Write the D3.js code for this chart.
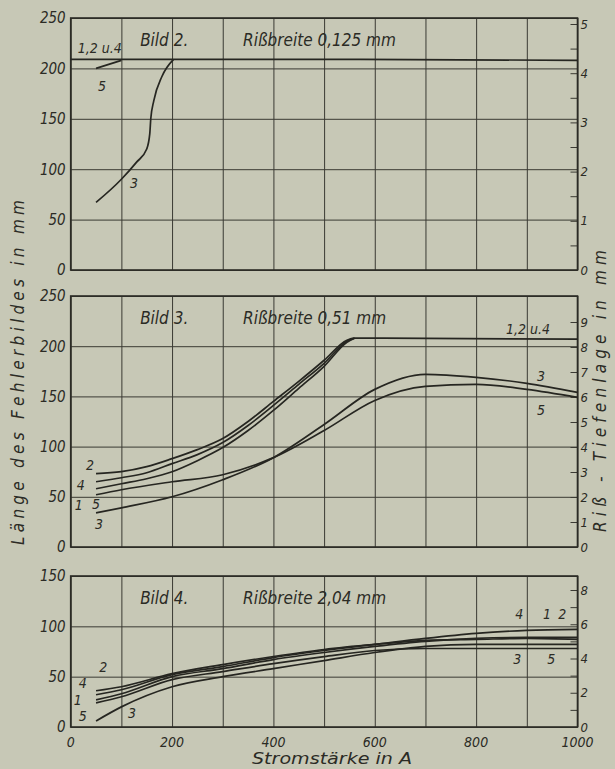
<!DOCTYPE html>
<html>
<head>
<meta charset="utf-8">
<script src="https://cdn.jsdelivr.net/npm/d3@7"></script>
<style>
body { margin: 0; background: #c7c8b6; }
text { font-family: "DejaVu Sans Condensed", "Liberation Sans Narrow", sans-serif; font-style: italic; fill: #2b2b25; }
.domain { display: none; }
.grid line { stroke: #3a3a33; stroke-width: 1; }
.curve { fill: none; stroke: #262621; stroke-width: 1.7; }
</style>
</head>
<body>
<svg id="chart" width="615" height="769"></svg>
<script>
// Stromstaerke (A) ticks and axis values
var stromGrid = [0, 100, 200, 300, 400, 500, 600, 700, 800, 900, 1000]
var stromLabels = [0, 200, 400, 600, 800, 1000]
var laengeTicks2 = [0, 50, 100, 150, 200, 250]
var laengeTicks3 = [0, 50, 100, 150, 200, 250]
var laengeTicks4 = [0, 50, 100, 150]
var tiefeTicks2 = [0, 0.5, 1, 1.5, 2, 2.5, 3, 3.5, 4, 4.5, 5]
var tiefeTicks3 = [0, 1, 2, 3, 4, 5, 6, 7, 8, 9]
var tiefeTicks4 = [0, 1, 2, 3, 4, 5, 6, 7, 8]

// Bild 2 - Rissbreite 0,125 mm  [A, Laenge mm]
var b2_kurve124 = [[0, 209], [500, 209], [1000, 208]]
var b2_kurve5 = [[50, 200], [75, 204], [100, 208]]
var b2_kurve3 = [[50, 67], [100, 90], [130, 107], [150, 120], [156, 135], [158, 150], [164, 168], [180, 192], [203, 209]]
var b2_labels = [["1,2 u.4", 14, 215, "start"], ["5", 62, 178, "middle"], ["3", 125, 81, "middle"]]

// Bild 3 - Rissbreite 0,51 mm
var b3_kurve2 = [[50, 73], [100, 75], [150, 80], [200, 88], [250, 97], [300, 108], [350, 125], [400, 145], [450, 165], [500, 186], [545, 206], [560, 208], [1000, 207]]
var b3_kurve4 = [[50, 65], [100, 69], [150, 74], [200, 83], [250, 92], [300, 104], [350, 121], [400, 141], [450, 162], [500, 183], [545, 205], [560, 208]]
var b3_kurve1 = [[50, 58], [100, 63], [150, 68], [200, 75], [250, 86], [300, 99], [350, 116], [400, 136], [450, 158], [500, 180], [545, 204], [560, 208]]
var b3_kurve5 = [[50, 52], [100, 57], [200, 65], [300, 72], [400, 89], [500, 116], [600, 146], [700, 160], [800, 162], [900, 157], [1000, 149]]
var b3_kurve3 = [[50, 34], [100, 39], [200, 50], [300, 67], [400, 89], [500, 122], [600, 157], [700, 172], [800, 169], [900, 163], [1000, 154]]
var b3_labels = [["2", 38, 77, "middle"], ["4", 20, 57, "middle"], ["1", 16, 37, "middle"], ["5", 50, 38, "middle"], ["3", 56, 18, "middle"],
    ["1,2 u.4", 859, 212, "start"], ["3", 928, 165, "middle"], ["5", 928, 131, "middle"]]

// Bild 4 - Rissbreite 2,04 mm
var b4_kurve2 = [[50, 36], [100, 40], [200, 53], [300, 62], [400, 70], [500, 77], [600, 82], [700, 86], [800, 87], [900, 88], [1000, 87]]
var b4_kurve4 = [[50, 32], [100, 37], [200, 52], [300, 60], [400, 69], [500, 76], [600, 82], [700, 88], [800, 93], [900, 96], [1000, 97]]
var b4_kurve1 = [[50, 27], [100, 33], [200, 50], [300, 58], [400, 67], [500, 74], [600, 80], [700, 85], [800, 88], [900, 89], [1000, 89]]
var b4_kurve5 = [[50, 24], [100, 30], [200, 47], [300, 55], [400, 63], [500, 70], [600, 76], [700, 78], [800, 78], [900, 78], [1000, 78]]
var b4_kurve3 = [[50, 6], [100, 20], [200, 40], [300, 50], [400, 58], [500, 66], [600, 74], [700, 80], [800, 82], [900, 82], [1000, 82]]
var b4_labels = [["2", 64, 55, "middle"], ["4", 24, 39, "middle"], ["1", 14, 22, "middle"], ["5", 24, 6, "middle"], ["3", 121, 9, "middle"],
    ["4", 885, 107, "middle"], ["1", 940, 107, "middle"], ["2", 970, 107, "middle"], ["3", 881, 63, "middle"], ["5", 948, 63, "middle"]]

var svg = d3.select("#chart")
svg.append("rect").attr("width", 615).attr("height", 769).attr("fill", "#c7c8b6")

var xScale = d3.scaleLinear().domain([0, 1000]).range([70.7, 577.5])
var plotW = 577.5 - 70.7

/*
One panel: grid, border, left/right scale, curves, labels.
*/
function drawPanel(p) {
    var yScale = d3.scaleLinear().domain([0, p.maxL]).range([p.bottom, p.top])
    var yRight = d3.scaleLinear().domain([0, p.maxR]).range([p.bottom, p.rTop])
    var g = svg.append("g")

    // vertical grid
    g.append("g").attr("class", "grid")
        .attr("transform", "translate(0," + p.bottom + ")")
        .call(d3.axisBottom(xScale).tickValues(stromGrid).tickSize(-(p.bottom - p.top)).tickFormat(""))

    // left axis with horizontal grid
    var left = g.append("g").attr("class", "grid")
        .attr("transform", "translate(" + xScale(0) + ",0)")
        .call(d3.axisLeft(yScale).tickValues(p.leftTicks).tickSize(-plotW).tickPadding(5))
    left.selectAll("text").style("font-size", "15px").attr("fill", "#2b2b25")

    // right axis, inner ticks
    var right = g.append("g").attr("class", "grid")
        .attr("transform", "translate(" + xScale(1000) + ",0)")
        .call(d3.axisRight(yRight).tickValues(p.rightTicks).tickSize(-7).tickPadding(3)
            .tickFormat(function (d) { return p.rightLabel(d) ? d : "" }))
    right.selectAll("line").attr("stroke-width", 1.4)
    right.selectAll("text").style("font-size", "13px").attr("fill", "#2b2b25")

    // frame
    g.append("rect")
        .attr("x", xScale(0)).attr("y", p.top)
        .attr("width", plotW).attr("height", p.bottom - p.top)
        .attr("fill", "none").attr("stroke", "#2b2b25").attr("stroke-width", 1.6)

    var line = d3.line()
        .x(function (d) { return xScale(d[0]) })
        .y(function (d) { return yScale(d[1]) })
        .curve(d3.curveMonotoneX)

    p.curves.forEach(function (c) {
        g.append("path").datum(c).attr("class", "curve").attr("d", line)
    })

    g.selectAll(".lbl").data(p.labels).enter().append("text")
        .attr("x", function (d) { return xScale(d[1]) })
        .attr("y", function (d) { return yScale(d[2]) })
        .attr("text-anchor", function (d) { return d[3] })
        .style("font-size", "14px")
        .text(function (d) { return d[0] })

    g.append("text").attr("x", xScale(137)).attr("y", p.top + 28)
        .style("font-size", "17px").text(p.bild)
    g.append("text").attr("x", xScale(340)).attr("y", p.top + 28)
        .style("font-size", "17px").text(p.riss)
    return yScale
}

drawPanel({
    top: 18, bottom: 270, rTop: 24, maxL: 250, maxR: 5,
    leftTicks: laengeTicks2, rightTicks: tiefeTicks2,
    rightLabel: function (d) { return d % 1 === 0 },
    curves: [b2_kurve124, b2_kurve5, b2_kurve3], labels: b2_labels,
    bild: "Bild 2.", riss: "Rißbreite 0,125 mm"
})
drawPanel({
    top: 296, bottom: 547, rTop: 322, maxL: 250, maxR: 9,
    leftTicks: laengeTicks3, rightTicks: tiefeTicks3,
    rightLabel: function (d) { return true },
    curves: [b3_kurve2, b3_kurve4, b3_kurve1, b3_kurve5, b3_kurve3], labels: b3_labels,
    bild: "Bild 3.", riss: "Rißbreite 0,51 mm"
})
drawPanel({
    top: 576, bottom: 727, rTop: 590, maxL: 150, maxR: 8,
    leftTicks: laengeTicks4, rightTicks: tiefeTicks4,
    rightLabel: function (d) { return d % 2 === 0 },
    curves: [b4_kurve2, b4_kurve4, b4_kurve1, b4_kurve5, b4_kurve3], labels: b4_labels,
    bild: "Bild 4.", riss: "Rißbreite 2,04 mm"
})

// x labels on the bottom panel only
svg.append("g").selectAll("text").data(stromLabels).enter().append("text")
    .attr("x", function (d) { return xScale(d) })
    .attr("y", 747)
    .attr("text-anchor", "middle")
    .style("font-size", "14px")
    .text(function (d) { return d })

svg.append("text").attr("x", 252).attr("y", 764)
    .attr("textLength", 160).attr("lengthAdjust", "spacingAndGlyphs")
    .style("font-size", "15px").text("Stromstärke in A")

svg.append("text")
    .attr("transform", "translate(24,545) rotate(-90)")
    .attr("textLength", 345).attr("lengthAdjust", "spacing")
    .style("font-size", "17px").text("Länge des Fehlerbildes in mm")

svg.append("text")
    .attr("transform", "translate(606,532) rotate(-90)")
    .attr("textLength", 282).attr("lengthAdjust", "spacing")
    .style("font-size", "17px").text("Riß - Tiefenlage in mm")
</script>
</body>
</html>
